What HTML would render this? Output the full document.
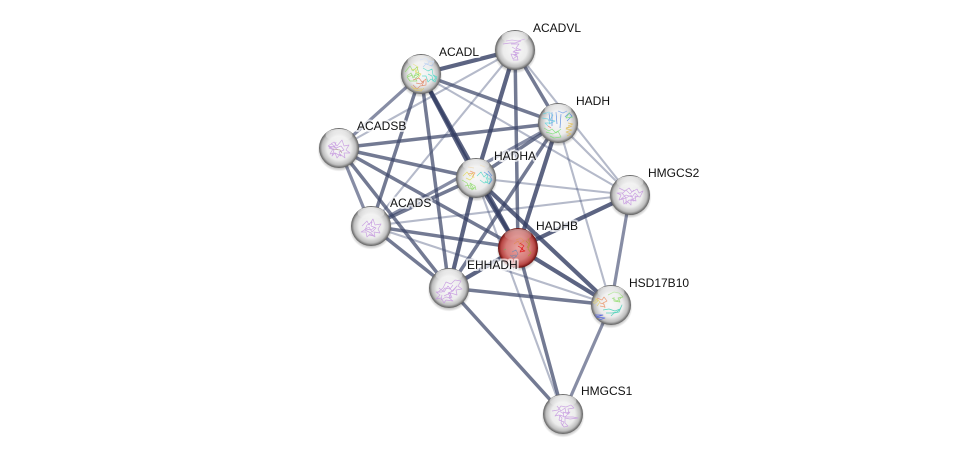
<!DOCTYPE html>
<html><head><meta charset="utf-8">
<style>
html,body{margin:0;padding:0;background:#fff;width:976px;height:458px;overflow:hidden}
svg{display:block}
text{font-family:"Liberation Sans",sans-serif;font-size:12px;fill:#111}
.h text{stroke:#fff;stroke-width:4px;stroke-opacity:.7;stroke-linejoin:round;paint-order:stroke}
.t line{stroke:#333d63;stroke-width:4.2;stroke-opacity:.8}
.m line{stroke:#3d4669;stroke-width:3.5;stroke-opacity:.72}
.f line{stroke:#465075;stroke-width:3.2;stroke-opacity:.65}
.l line{stroke:#47527a;stroke-width:2.1;stroke-opacity:.4}
.p path{fill:none;stroke-width:.7;stroke-linejoin:round;opacity:.9}
</style></head><body>
<svg width="976" height="458" viewBox="0 0 976 458" xmlns="http://www.w3.org/2000/svg">
<defs>
<radialGradient id="g" cx="50%" cy="50%" r="50%"><stop offset="0" stop-color="#f8f8f8"/><stop offset=".6" stop-color="#ececec"/><stop offset=".85" stop-color="#bdbdbd"/><stop offset=".96" stop-color="#777"/><stop offset="1" stop-color="#5e5e5e"/></radialGradient>
<radialGradient id="r" cx="50%" cy="50%" r="50%"><stop offset="0" stop-color="#e8a4a1"/><stop offset=".6" stop-color="#d67c79"/><stop offset=".85" stop-color="#b84744"/><stop offset=".96" stop-color="#7d1b19"/><stop offset="1" stop-color="#661210"/></radialGradient>
<linearGradient id="s" x1="0" y1="0" x2="0" y2="1"><stop offset="0" stop-color="#fff" stop-opacity=".8"/><stop offset="1" stop-color="#fff" stop-opacity=".05"/></linearGradient>
<radialGradient id="sh" cx="50%" cy="50%" r="50%"><stop offset=".82" stop-color="#000" stop-opacity=".28"/><stop offset="1" stop-color="#000" stop-opacity="0"/></radialGradient>
<filter id="b" x="-10%" y="-10%" width="120%" height="120%"><feGaussianBlur stdDeviation=".3"/></filter>
</defs>

<g class="l">
<line x1="421" y1="74" x2="630" y2="195"/>
<line x1="515" y1="50" x2="630" y2="195"/>
<line x1="515" y1="50" x2="339" y2="148"/>
<line x1="515" y1="50" x2="371" y2="226"/>
<line x1="558" y1="123" x2="630" y2="195"/>
<line x1="558" y1="123" x2="611" y2="305"/>
<line x1="476" y1="178" x2="630" y2="195"/>
<line x1="476" y1="178" x2="563" y2="414"/>
<line x1="371" y1="226" x2="630" y2="195"/>
<line x1="371" y1="226" x2="611" y2="305"/>
</g>
<g class="f">
<line x1="630" y1="195" x2="611" y2="305"/>
<line x1="611" y1="305" x2="563" y2="414"/>
<line x1="339" y1="148" x2="371" y2="226"/>
<line x1="421" y1="74" x2="339" y2="148"/>
<line x1="558" y1="123" x2="371" y2="226"/>
</g>
<g class="m">
<line x1="421" y1="74" x2="558" y2="123"/>
<line x1="421" y1="74" x2="371" y2="226"/>
<line x1="421" y1="74" x2="449" y2="288"/>
<line x1="515" y1="50" x2="558" y2="123"/>
<line x1="558" y1="123" x2="339" y2="148"/>
<line x1="558" y1="123" x2="476" y2="178"/>
<line x1="558" y1="123" x2="449" y2="288"/>
<line x1="339" y1="148" x2="476" y2="178"/>
<line x1="339" y1="148" x2="518" y2="248"/>
<line x1="339" y1="148" x2="449" y2="288"/>
<line x1="476" y1="178" x2="371" y2="226"/>
<line x1="371" y1="226" x2="518" y2="248"/>
<line x1="371" y1="226" x2="449" y2="288"/>
<line x1="518" y1="248" x2="563" y2="414"/>
<line x1="449" y1="288" x2="611" y2="305"/>
<line x1="449" y1="288" x2="563" y2="414"/>
<line x1="515" y1="50" x2="518" y2="248"/>
</g>
<g class="t">
<line x1="421" y1="74" x2="515" y2="50"/>
<line x1="421" y1="74" x2="476" y2="178"/>
<line x1="421" y1="74" x2="518" y2="248"/>
<line x1="515" y1="50" x2="476" y2="178"/>
<line x1="558" y1="123" x2="518" y2="248"/>
<line x1="476" y1="178" x2="518" y2="248"/>
<line x1="476" y1="178" x2="449" y2="288"/>
<line x1="476" y1="178" x2="611" y2="305"/>
<line x1="518" y1="248" x2="630" y2="195"/>
<line x1="518" y1="248" x2="449" y2="288"/>
<line x1="518" y1="248" x2="611" y2="305"/>
</g>

<!-- spheres -->
<g>
<circle cx="421" cy="76" r="21.5" fill="url(#sh)"/><circle cx="421" cy="74" r="20" fill="url(#g)"/>
<circle cx="515" cy="52" r="21.5" fill="url(#sh)"/><circle cx="515" cy="50" r="20" fill="url(#g)"/>
<circle cx="558" cy="125" r="21.5" fill="url(#sh)"/><circle cx="558" cy="123" r="20" fill="url(#g)"/>
<circle cx="339" cy="150" r="21.5" fill="url(#sh)"/><circle cx="339" cy="148" r="20" fill="url(#g)"/>
<circle cx="476" cy="180" r="21.5" fill="url(#sh)"/><circle cx="476" cy="178" r="20" fill="url(#g)"/>
<circle cx="630" cy="197" r="21.5" fill="url(#sh)"/><circle cx="630" cy="195" r="20" fill="url(#g)"/>
<circle cx="371" cy="228" r="21.5" fill="url(#sh)"/><circle cx="371" cy="226" r="20" fill="url(#g)"/>
<circle cx="518" cy="250" r="21.5" fill="url(#sh)"/><circle cx="518" cy="248" r="20" fill="url(#r)"/>
<circle cx="449" cy="290" r="21.5" fill="url(#sh)"/><circle cx="449" cy="288" r="20" fill="url(#g)"/>
<circle cx="611" cy="307" r="21.5" fill="url(#sh)"/><circle cx="611" cy="305" r="20" fill="url(#g)"/>
<circle cx="563" cy="416" r="21.5" fill="url(#sh)"/><circle cx="563" cy="414" r="20" fill="url(#g)"/>
</g>

<!-- protein scribbles -->
<g class="p" filter="url(#b)">
<path stroke="#8fdc6a" d="M405 72l5-6 3 5 4-4 2 7-5 2 3 5-7 0-3-4 6-2M407 76l4-3 2 5 3-5 3 2-3 3"/>
<path stroke="#e0dc6a" d="M413 64l5 3-2 5 5 2-3 4M411 70l4-1 1 4"/>
<path stroke="#a9c4ee" d="M420 60l6-2 3 4 5-1-2 5-6-2-3 3M424 63l4 1 2-4"/>
<path stroke="#55d9c8" d="M423 68l5 3 4-2 1 6 4 2-2 5-4-3-3 3-2-6-4 0M428 74l4 2 1 5 3-3-3-3"/>
<path stroke="#e08a6a" d="M413 80l6-2 3 4 4-3 0 6-6 1-3 3-4-4M416 83l5 1 3-3-2 5"/>
<path stroke="#e2c96a" d="M411 86l4 4 6 1 3-3M413 88l5 1 4 0"/>

<path stroke="#c79be0" d="M506 41l6-1 6 1 7-2M503 44l7-1 5 0 6-2M511 44l8 0-3 4 5 2-7 1 3 4-6-1 2 5 4-3 1 4-5 0M512 47l5 3-4 2 6 1-5 2 4 2"/>

<path stroke="#67d2e0" d="M543 114l6-2 4 3-3 5 5 1-6 3M542 118l6 1 2 4-5 0 3 3"/>
<path stroke="#4f86e0" d="M552 112l0 14M556 112l1 12M561 114l-1 14M565 117l4-4 3 3-5 5M549 113l1 8M558 111l5 2 4-2"/>
<path stroke="#7fe07a" d="M570 112l-4 6 7-1M546 132l7 2 5-3 3 6-7 1-4-2M544 128l5 3 3-2 4 4 5-4"/>
<path stroke="#e0c060" d="M566 128l6-2-6 3 6 1-6 2 5 2-4 2M568 123l5 1-5 2"/>
<path stroke="#e0705a" d="M548 126l3 2"/>

<path stroke="#c79be0" d="M328 146l6-4 3 4 5-6 2 6 5-1-3 5 4 3-6 0 1 5-5-4-3 4-2-5-5 1 3-5-5-3 6 1 4 3M331 143l5 5 5-2 3 4-5 2 2 4-6-3-3 3 2-6-5-2 6-2 1-4"/>
<path stroke="#b5a0a0" d="M333 149l7 1 2 3"/>

<path stroke="#e8cfa0" d="M468 167l6 1M480 165l5 2"/>
<path stroke="#e2dc60" d="M463 176l4-4 3 4 3-3 1 5M466 178l4 2 3-3"/>
<path stroke="#8fdc6a" d="M462 180l5 3 2 5 5 1-4-6 5 3 1 4M465 186l5-1 2 5 3-3"/>
<path stroke="#f0a070" d="M470 171l5 2-3 4M468 174l5-1"/>
<path stroke="#55d9c8" d="M477 176l4-4 3 5 3-3 1 5 3 0-2 5-4-3M480 180l4 3 4-1-2-5"/>
<path stroke="#5c8fe0" d="M484 172l6 4 2 4-3 4M488 171l4 5"/>

<path stroke="#c79be0" d="M619 188l6 3 4-3 3 4 5-3 2 4 4-2-3 6-5-1 1 5-5-2 0 6-4-4-3 3-1-5-4 1 2-5-4-2 6 0 3-3 4 4 4-4M622 193l4 5 5-3 3 6-5-1-3 4 0-6-5 1 5-4 6 2 3-4 3 3-5 3"/>

<path stroke="#c79be0" d="M362 226l5-5 2 4 4-6 2 6 6-1-3 5 2 4-6-1 1 5-5-3-3 3-1-5-5 0 5-3 5 1 4-3M364 230l5-3 3 5 4-4-5-2 1-4-5 3-2 5 6 3 3 3-5-1"/>

<path stroke="#e08a50" d="M516 240l5-2 3 3-5 3 3 2M514 244l4-3 3 5"/>
<path stroke="#e01818" d="M520 243l4 3-3 3 4 2-5 1 3-5M518 246l5 3-3 2"/>
<path stroke="#a89a30" d="M528 238l2 6-2 5 3 4-3 3M526 241l3 3-2 4"/>
<path stroke="#8088a8" d="M512 252l4-2 2 4-4 4-3-2 5-1M510 255l4 3 3-2"/>
<path stroke="#7aa860" d="M504 250l2-1"/>

<path stroke="#c79be0" d="M437 293l6-5 3-6 5 2 4-4 6 1-3 5 4 3-6 1 1 5-6-2-2 5 4 3-7-1-2 3-3-5-5 1 4-4-4-3 6 0 3-4 5 1 3-4M444 296l6-3 2 5M439 288l5 4 4-6 4 5 5-5-4 5-5 2 3 5-5-1-5 3 1-5"/>

<path stroke="#e2d070" d="M593 303l4-4 3 3-3 4M595 298l3 3-4 3"/>
<path stroke="#eb9a70" d="M597 298l5 2 2-3 3 4-4 2 2 4-5-1M600 303l4 1 1 4"/>
<path stroke="#8fdc6a" d="M608 295l6-3 5 1 4 4-5 1 2 4-6-1 0-4M612 298l5 3 4-3"/>
<path stroke="#48d0b8" d="M603 310l6-1 6 2 5-2 2-4-3 7-5 1-3 3M606 313l6 0 5-1 3-3"/>
<path stroke="#5060e0" d="M595 315l8 0-7 2 9 1-6 2"/>

<path stroke="#c79be0" d="M552 411l6-1 3-4 5 1 5-2 3 3-6 1 1 5-6-2 1 5 9 0 5 1-8 1-5-1 0 5 3 3-4 1-3-4 1-5-3-3-4 1 4-5 5 3M557 406l4 5 4-3 1 5 4-1-5 5-5-2-1 5 5 2-2 4"/>
</g>

<!-- gloss -->
<g fill="url(#s)">
<ellipse cx="421" cy="61" rx="13.5" ry="6"/>
<ellipse cx="515" cy="37" rx="13.5" ry="6"/>
<ellipse cx="558" cy="110" rx="13.5" ry="6"/>
<ellipse cx="339" cy="135" rx="13.5" ry="6"/>
<ellipse cx="476" cy="165" rx="13.5" ry="6"/>
<ellipse cx="630" cy="182" rx="13.5" ry="6"/>
<ellipse cx="371" cy="213" rx="13.5" ry="6"/>
<ellipse cx="518" cy="235" rx="13.5" ry="6" opacity=".6"/>
<ellipse cx="449" cy="275" rx="13.5" ry="6"/>
<ellipse cx="611" cy="292" rx="13.5" ry="6"/>
<ellipse cx="563" cy="401" rx="13.5" ry="6"/>
</g>

<g class="h">
<text x="439" y="56">ACADL</text>
<text x="533" y="32">ACADVL</text>
<text x="576" y="105">HADH</text>
<text x="357" y="130">ACADSB</text>
<text x="494" y="160">HADHA</text>
<text x="648" y="177">HMGCS2</text>
<text x="390" y="207">ACADS</text>
<text x="536" y="230">HADHB</text>
<text x="467" y="269">EHHADH</text>
<text x="629" y="287">HSD17B10</text>
<text x="581" y="395">HMGCS1</text>
</g>
</svg>
</body></html>
